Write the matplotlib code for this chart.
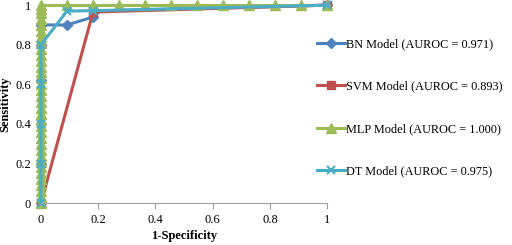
import matplotlib.pyplot as plt

plt.rcParams['font.family'] = ['Liberation Serif', 'DejaVu Serif']

# ROC points (x = 1-specificity, y = sensitivity)
bn_x = [0, 0, 0, 0, 0, 0, 0.091, 0.182, 0.19, 1]
bn_y = [0, 0.2, 0.4, 0.62, 0.8, 0.9, 0.9, 0.94, 0.97, 1]

svm_x = [0, 0.182, 1]
svm_y = [0, 0.965, 1]

mlp_x = [0] * 35 + [0.091, 0.182, 0.273, 0.364, 0.455, 0.545, 0.636, 0.727, 0.818, 0.909, 1]
mlp_y = [0, 0.03, 0.06, 0.09, 0.12, 0.15, 0.18, 0.21, 0.24, 0.27, 0.3, 0.33,
         0.36, 0.39, 0.42, 0.45, 0.48, 0.51, 0.54, 0.57, 0.6, 0.63, 0.66, 0.69,
         0.72, 0.75, 0.78, 0.81, 0.84, 0.87, 0.9, 0.93, 0.96, 0.98, 1] + [1] * 11

dt_x = [0, 0, 0, 0, 0, 0.091, 0.182, 1]
dt_y = [0, 0.2, 0.4, 0.6, 0.8, 0.97, 0.972, 1]

labels = ['BN Model (AUROC = 0.971)', 'SVM Model (AUROC = 0.893)',
          'MLP Model (AUROC = 1.000)', 'DT Model (AUROC = 0.975)']
ticks = [0, 0.2, 0.4, 0.6, 0.8, 1]
tick_labels = ['0', '0.2', '0.4', '0.6', '0.8', '1']

fig = plt.figure(figsize=(5.12, 2.45), dpi=100)
ax = fig.add_axes([0.080, 0.171, 0.559, 0.808])

ax.plot(bn_x, bn_y, color='#4F81BD', lw=2.2, marker='D', ms=5, clip_on=False, label=labels[0])
ax.plot(svm_x, svm_y, color='#C0504D', lw=2.2, marker='s', ms=6, clip_on=False, label=labels[1])
ax.plot(mlp_x, mlp_y, color='#9BBB59', lw=2.2, marker='^', ms=7, clip_on=False, label=labels[2])
ax.plot(dt_x, dt_y, color='#4BACC6', lw=2.2, marker='x', ms=6, mew=1.5, clip_on=False, label=labels[3])

ax.set_xlim(0, 1)
ax.set_ylim(0, 1)
ax.set_xticks(ticks)
ax.set_xticklabels(tick_labels)
ax.set_yticks(ticks)
ax.set_yticklabels(tick_labels)
ax.tick_params(axis='x', length=4, color='#A0A0A0', labelsize=9, pad=4)
ax.tick_params(axis='y', length=0, labelsize=9, pad=7)

for side in ['top', 'right', 'left']:
    ax.spines[side].set_visible(False)
ax.spines['bottom'].set_color('#A0A0A0')

ax.set_xlabel('1-Specificity', fontsize=9, fontweight='bold', labelpad=3)
ax.set_ylabel('Sensitivity', fontsize=9, fontweight='bold')
ax.yaxis.set_label_coords(-0.105, 0.5)

fig.legend(loc='upper left', bbox_to_anchor=(0.597, 0.89), frameon=False,
           fontsize=8.8, labelspacing=2.5, handlelength=2.3, handletextpad=0.1)

fig.savefig('out.png', dpi=100)
